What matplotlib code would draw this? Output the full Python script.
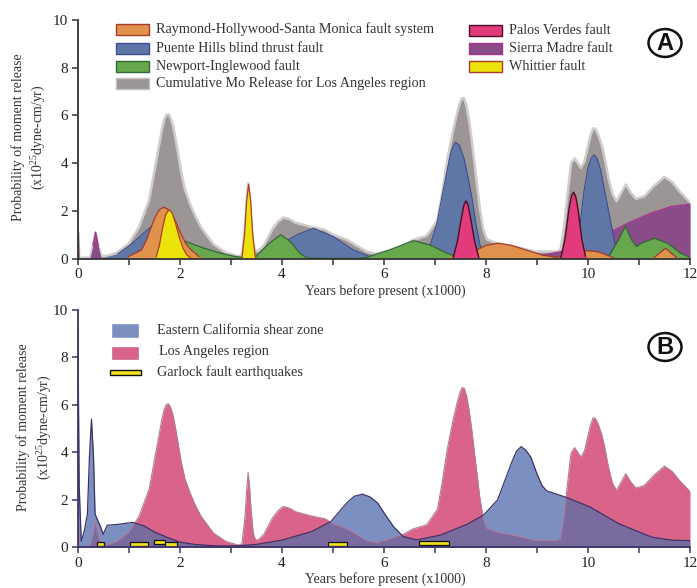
import numpy as np
import matplotlib
matplotlib.use("Agg")
import matplotlib.pyplot as plt
from matplotlib.patches import Rectangle, Circle

plt.rcParams['font.family'] = ['Liberation Serif', 'DejaVu Serif']
plt.rcParams['mathtext.fontset'] = 'custom'
plt.rcParams['mathtext.rm'] = 'Liberation Serif'
plt.rcParams['mathtext.default'] = 'rm'

# cumulative Mo release for Los Angeles region (grey in A, pink in B)
la_x = [0, 0.015, 0.03, 0.24, 0.3, 0.35, 0.4, 0.46, 0.55, 0.75, 1.0, 1.2, 1.4, 1.54, 1.6, 1.65,
        1.7, 1.74, 1.78, 1.82, 1.87, 1.92, 1.97, 2.02, 2.1, 2.2, 2.3, 2.42, 2.66, 2.9, 3.15,
        3.22, 3.28, 3.31, 3.34, 3.37, 3.4, 3.44, 3.48, 3.53, 3.65, 3.82, 3.93, 4.03, 4.15, 4.27,
        4.58, 4.85, 5.0, 5.28, 5.66, 5.86, 6.12, 6.38, 6.58, 6.84, 7.05, 7.14, 7.24, 7.35, 7.43,
        7.48, 7.53, 7.57, 7.62, 7.67, 7.72, 7.77, 7.82, 7.88, 7.95, 8.02, 8.2, 8.57, 8.96, 9.39,
        9.46, 9.53, 9.6, 9.67, 9.74, 9.8, 9.86, 9.93, 10.0, 10.05, 10.1, 10.14, 10.2, 10.27,
        10.32, 10.4, 10.48, 10.56, 10.65, 10.74, 10.84, 10.94, 11.1, 11.3, 11.5, 11.65, 11.8,
        12.0]
la_y = [1.1, 1.1, 0.02, 0.05, 0.55, 1.1, 0.55, 0.12, 0.1, 0.22, 0.62, 1.3, 2.45, 4.1, 4.8, 5.4,
        5.85, 6.02, 6.05, 5.9, 5.55, 5.0, 4.35, 3.7, 2.9, 2.3, 1.8, 1.3, 0.6, 0.25, 0.09,
        0.15, 1.3, 2.4, 3.15, 2.5, 1.5, 0.6, 0.33, 0.3, 0.55, 1.25, 1.55, 1.72, 1.65, 1.5,
        1.32, 1.2, 1.0, 0.78, 0.29, 0.19, 0.36, 0.55, 0.78, 0.95, 1.6, 2.7, 4.1, 5.3, 6.05,
        6.45, 6.72, 6.72, 6.4, 5.8, 5.0, 4.1, 3.2, 2.1, 1.2, 0.8, 0.65, 0.5, 0.29, 0.29,
        0.35, 1.3, 2.7, 4.0, 4.2, 4.0, 3.8, 4.05, 4.7, 5.15, 5.45, 5.45, 5.2, 4.75,
        4.3, 3.4, 2.7, 2.4, 2.75, 3.1, 2.75, 2.5, 2.6, 3.05, 3.42, 3.2, 2.8,
        2.35]

# Sierra Madre fault
sm_x = [0, 0.015, 0.03, 0.24, 0.3, 0.35, 0.4, 0.46, 0.6, 8.6, 9.0, 9.47, 9.93, 10.39, 10.78,
        11.23, 11.63, 12.0]
sm_y = [1.1, 1.1, 0, 0, 0.55, 1.1, 0.55, 0, 0, 0, 0.1, 0.29, 0.64, 1.06, 1.48, 1.9, 2.18, 2.28]

# Puente Hills blind thrust fault
ph_x = [0.4, 0.79, 1.05, 1.31, 1.45, 1.69, 1.95, 2.12, 2.32, 2.58, 2.8, 3.3, 3.6, 3.97, 4.3,
        4.62, 5.01, 5.4, 5.73, 5.95, 6.5, 6.9, 7.04, 7.14, 7.24, 7.32, 7.4, 7.48, 7.57, 7.65,
        7.73, 7.8, 7.88, 7.95, 8.05, 9.7, 9.78, 9.85, 9.92, 10.0, 10.06, 10.12, 10.18, 10.25,
        10.32, 10.43, 10.52, 10.6, 10.7]
ph_y = [0, 0.2, 0.6, 1.1, 1.35, 1.1, 0.88, 0.6, 0.3, 0.05, 0, 0, 0.2, 0.6, 1.0,
        1.27, 0.92, 0.36, 0.08, 0, 0.1, 0.5, 1.48, 2.6, 3.7, 4.5, 4.88, 4.75, 4.2, 3.4,
        2.5, 1.5, 0.6, 0.2, 0, 0, 0.3, 1.5, 2.8, 3.8, 4.2, 4.35, 4.2, 3.7,
        2.9, 1.7, 0.7, 0.15, 0]

# Newport-Inglewood fault
ni_x = [1.4, 1.7, 1.9, 2.1, 2.45, 2.77, 3.1, 3.35, 3.49, 3.75, 3.98, 4.17, 4.36, 4.5, 5.5,
        5.66, 6.12, 6.58, 6.9, 7.24, 7.5, 7.6, 10.4, 10.6, 10.73, 10.85, 10.95, 11.04, 11.3,
        11.56, 11.82, 12.0]
ni_y = [0, 0.2, 0.55, 0.73, 0.45, 0.24, 0.08, 0.02, 0.08, 0.63, 1.0, 0.7, 0.2, 0.02, 0,
        0.05, 0.36, 0.75, 0.57, 0.22, 0.03, 0, 0.05, 0.8, 1.36, 0.8, 0.5, 0.64, 0.85,
        0.64, 0.22, 0.05]

# Raymond-Hollywood-Santa Monica fault system
rh_x = [0.99, 1.25, 1.35, 1.44, 1.52, 1.6, 1.68, 1.76, 1.86, 1.94, 2.02, 2.12, 2.22, 2.38, 2.5,
        7.1, 7.5, 7.8, 8.0, 8.24, 8.5, 8.8, 9.1, 9.35, 9.55, 9.8, 10.0, 10.2, 10.5, 10.7, 11.2,
        11.3, 11.52, 11.73, 11.8]
rh_y = [0.08, 0.36, 0.8, 1.33, 1.75, 2.05, 2.15, 2.08, 1.82, 1.45, 1.05, 0.62, 0.36, 0.08, 0,
        0, 0.15, 0.35, 0.55, 0.64, 0.55, 0.35, 0.15, 0.06, 0.08, 0.27, 0.33, 0.28, 0.04, 0, 0,
        0.05, 0.43, 0.05, 0]

# Palos Verdes fault
pv_x = [7.3, 7.36, 7.44, 7.52, 7.57, 7.61, 7.65, 7.7, 7.78, 7.86, 7.9, 9.4, 9.47, 9.55, 9.63,
        9.68, 9.72, 9.76, 9.81, 9.88, 9.95, 10.0]
pv_y = [0, 0.05, 0.7, 1.7, 2.25, 2.42, 2.25, 1.7, 0.7, 0.05, 0, 0, 0.05, 0.8, 2.1,
        2.65, 2.78, 2.6, 2.0, 0.8, 0.1, 0]

# Whittier fault
wh_x = [1.5, 1.54, 1.6, 1.66, 1.72, 1.77, 1.81, 1.86, 1.92, 1.99, 2.06, 2.13, 2.21, 2.3, 3.15,
        3.22, 3.27, 3.31, 3.35, 3.39, 3.43, 3.48, 3.55]
wh_y = [0, 0.08, 0.55, 1.25, 1.82, 2.0, 2.03, 1.85, 1.45, 0.9, 0.45, 0.17, 0.02, 0, 0,
        0.05, 1.0, 2.4, 3.11, 2.4, 1.0, 0.05, 0]

# Eastern California shear zone
ec_x = [0, 0.03, 0.07, 0.13, 0.19, 0.23, 0.27, 0.31, 0.34, 0.38, 0.44, 0.5, 0.58, 0.8, 1.08,
        1.3, 1.5, 1.75, 2.0, 2.3, 2.7, 3.1, 3.5, 4.0, 4.58, 4.96, 5.27, 5.42, 5.58, 5.73, 5.88,
        6.05, 6.19, 6.38, 6.65, 7.12, 7.65, 7.96, 8.23, 8.5, 8.6, 8.69, 8.78, 8.88, 9.0, 9.1,
        9.19, 9.58, 10.04, 10.6, 11.05, 11.27, 11.65, 12.0]
ec_y = [10, 2.5, 0.25, 0.7, 1.4, 3.8, 5.4, 3.8, 1.4, 1.2, 0.9, 0.55, 0.93, 0.97, 1.05,
        0.9, 0.65, 0.42, 0.22, 0.12, 0.06, 0.06, 0.12, 0.3, 0.66, 1.08, 1.86, 2.15, 2.24, 2.12, 1.86,
        1.3, 0.87, 0.45, 0.31, 0.52, 0.99, 1.37, 2.0, 3.55, 4.05, 4.24, 4.1, 3.8, 3.1, 2.6,
        2.38, 2.1, 1.7, 1.0, 0.6, 0.42, 0.3, 0.28]

# Garlock fault earthquakes
garlock_start = [0.38, 1.02, 1.5, 1.72, 4.9, 6.69]
garlock_end = [0.52, 1.37, 1.72, 1.95, 5.27, 7.28]
garlock_low = [0.06, 0.06, 0.13, 0.03, 0.06, 0.08]

W, H = 697, 588
fig = plt.figure(figsize=(W / 100, H / 100), dpi=100)


def fx(px):
    return px / W


def fy(py):
    return 1 - py / H


def top_line(y):
    y = np.array(y, float)
    z = y == 0
    prev = np.r_[True, z[:-1]]
    nxt = np.r_[z[1:], True]
    return np.where(z & (prev | nxt), np.nan, y)


def style_axes(ax, spine_col):
    ax.set_xlim(0, 12)
    ax.set_ylim(0, 10)
    for s in ['top', 'right']:
        ax.spines[s].set_visible(False)
    for s in ['left', 'bottom']:
        ax.spines[s].set_color(spine_col)
        ax.spines[s].set_linewidth(1.3)
        ax.spines[s].set_zorder(10)
    ax.set_xticks(range(0, 13, 2))
    ax.set_xticks(range(1, 13, 2), minor=True)
    ax.set_yticks(range(0, 11, 2))
    ax.tick_params(axis='both', which='both', direction='out', length=4, width=1.1,
                   color=spine_col, labelsize=11, labelcolor='#222222', pad=3)
    ax.patch.set_alpha(0)


ax1 = fig.add_axes([fx(77.7), fy(258.5), fx(690) - fx(77.7), fy(20) - fy(258.5)])
ax2 = fig.add_axes([fx(77.7), fy(547.3), fx(690) - fx(77.7), fy(310) - fy(547.3)])

# ---- panel A
series_a = [
    (la_x, la_y, '#9b9695', '#cfcccb', 1.8),
    (sm_x, sm_y, '#8a4b89', '#a8308a', 0.9),
    (ph_x, ph_y, '#5f77a7', '#3f4c92', 0.8),
    (ni_x, ni_y, '#68a84c', '#2d6a35', 0.9),
    (rh_x, rh_y, '#e0914c', '#a83a2c', 0.9),
    (pv_x, pv_y, '#e13b7b', '#4a0d25', 1.0),
    (wh_x, wh_y, '#ede30c', '#b04020', 0.9),
]
for i, (x, y, fc, ec, lw) in enumerate(series_a):
    ax1.fill_between(x, y, 0, color=fc, lw=0, zorder=2 + i)
    ax1.plot(x, top_line(y), color=ec, lw=lw, zorder=2.5 + i)
style_axes(ax1, '#333333')

# ---- panel B
blue_fill = ax2.fill_between(ec_x, ec_y, 0, color='#7b90c0', lw=0, zorder=2)
pink_fill = ax2.fill_between(la_x, la_y, 0, color='#da6489', lw=0, zorder=3)
over = ax2.fill_between(ec_x, ec_y, 0, color='#7a6b9e', lw=0, zorder=4)
over.set_clip_path(pink_fill.get_paths()[0], ax2.transData)
ax2.plot(la_x, la_y, color='#b07a9c', lw=0.8, zorder=5)
ax2.plot(ec_x, ec_y, color='#3b3268', lw=0.9, zorder=6)
for s, e, lo in zip(garlock_start, garlock_end, garlock_low):
    ax2.add_patch(Rectangle((s, lo), e - s, 0.18, facecolor='#f2e21c', edgecolor='#111111',
                            lw=0.9, zorder=7))
style_axes(ax2, '#3b3566')

# ---- axis labels
for cy, x1, x2, xl in [(137, 18, 39, 291), (427, 23, 45, 579)]:
    fig.text(fx(x1), fy(cy), 'Probability of moment release', rotation=90, ha='center',
             va='center', fontsize=10, color='#333333')
    fig.text(fx(x2), fy(cy), r'(x10$^{25}$dyne-cm/yr)', rotation=90, ha='center',
             va='center', fontsize=10, color='#333333')
    fig.text(fx(385), fy(xl), 'Years before present (x1000)', ha='center', va='center',
             fontsize=10, color='#333333')

# ---- legend A
leg_a = [
    (116, 29, 'Raymond-Hollywood-Santa Monica fault system', '#e0914c', '#a83a2c'),
    (116, 48, 'Puente Hills blind thrust fault', '#5f77a7', '#3f4c92'),
    (116, 66, 'Newport-Inglewood fault', '#68a84c', '#2d6a35'),
    (116, 83, 'Cumulative Mo Release for Los Angeles region', '#9b9695', '#c4c1c0'),
    (469, 30, 'Palos Verdes fault', '#e13b7b', '#4a0d25'),
    (469, 48, 'Sierra Madre fault', '#8a4b89', '#a8308a'),
    (469, 66, 'Whittier fault', '#ede30c', '#a83a2c'),
]
for px, py, label, fc, ec in leg_a:
    fig.patches.append(Rectangle((fx(px), fy(py + 5.5)), fx(33), 11 / H, facecolor=fc,
                                 edgecolor=ec, lw=1.0, transform=fig.transFigure))
    fig.text(fx(px + 40), fy(py), label, ha='left', va='center', fontsize=10.2,
             color='#333333')

# ---- legend B
fig.patches.append(Rectangle((fx(112), fy(337)), fx(26), 13 / H, facecolor='#7b90c0',
                             edgecolor='#8fa0c8', lw=0.6, transform=fig.transFigure))
fig.patches.append(Rectangle((fx(112), fy(359)), fx(26), 12 / H, facecolor='#da6489',
                             edgecolor='#c87a9a', lw=0.6, transform=fig.transFigure))
fig.patches.append(Rectangle((fx(110), fy(375)), fx(31), 5 / H, facecolor='#f2e21c',
                             edgecolor='#111111', lw=1.0, transform=fig.transFigure))
fig.text(fx(157), fy(330), 'Eastern California shear zone', ha='left', va='center',
         fontsize=10.2, color='#333333')
fig.text(fx(159), fy(352), 'Los Angeles region', ha='left', va='center', fontsize=10.2,
         color='#333333')
fig.text(fx(157), fy(372), 'Garlock fault earthquakes', ha='left', va='center',
         fontsize=10.2, color='#333333')

# ---- circled panel letters
for cy, letter in [(43, 'A'), (347, 'B')]:
    fig.patches.append(Circle((fx(665), fy(cy)), 16.5 / W, facecolor='white',
                              edgecolor='#111111', lw=1.8, transform=fig.transFigure))
    fig.text(fx(665), fy(cy + 0.5), letter, ha='center', va='center', fontsize=17,
             fontweight='bold', family=['Liberation Sans', 'DejaVu Sans'], color='#111111')

fig.savefig('out.png', dpi=100)
